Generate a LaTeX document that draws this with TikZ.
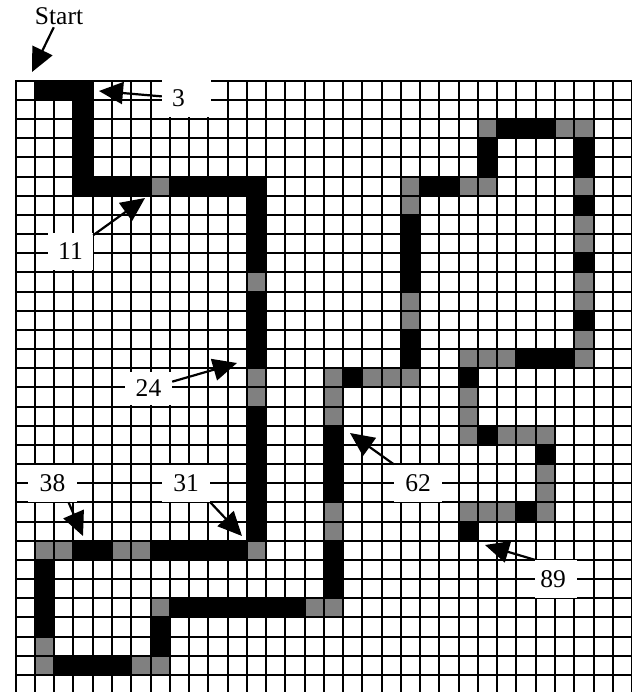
\documentclass[tikz,border=0pt]{standalone}
\usepackage{fontspec}
\setmainfont{Liberation Serif}
\usetikzlibrary{arrows.meta}
\definecolor{cellgray}{RGB}{128,128,128}
\begin{document}
\begin{tikzpicture}[x=1bp,y=-1bp,
  gridline/.style={line width=2bp,black,line cap=rect},
  lbl/.style={fill=white,inner sep=0pt,minimum width=47bp,minimum height=37bp,font=\fontsize{25.6}{30}\selectfont},
  txt/.style={inner sep=2bp,font=\fontsize{25.6}{30}\selectfont},
  arr/.style={line width=2.2bp,-{Triangle[length=24bp,width=22bp]}}]
\useasboundingbox (0,0) rectangle (632,692);
\def\gx{15.7}\def\gy{80.7}\def\sx{19.26}\def\sy{19.17}
% black path cells
\foreach \c/\r in {1/0,2/0,3/0,3/1,3/2,3/3,3/4,3/5,
  4/5,5/5,6/5,8/5,9/5,10/5,11/5,12/5,
  12/6,12/7,12/8,12/9,12/11,12/12,12/13,12/14,12/17,12/18,12/19,12/20,12/21,12/22,12/23,
  3/24,4/24,7/24,8/24,9/24,10/24,11/24,
  1/25,1/26,1/27,1/28,
  2/30,3/30,4/30,5/30,
  7/28,7/29,
  8/27,9/27,10/27,11/27,12/27,13/27,14/27,
  16/18,16/19,16/20,16/21,16/24,16/25,16/26,
  17/15,
  20/7,20/8,20/9,20/10,20/13,20/14,
  21/5,22/5,24/3,24/4,25/2,26/2,27/2,
  29/3,29/4,29/6,29/9,29/12,
  26/14,27/14,28/14,
  23/15,24/18,27/19,26/22,23/23}
  \fill[black] ({\gx+\c*\sx},{\gy+\r*\sy}) rectangle ++(\sx,\sy);
% gray path cells
\foreach \c/\r in {7/5,12/10,12/15,12/16,12/24,
  1/24,2/24,5/24,6/24,
  1/29,1/30,6/30,7/30,7/27,15/27,16/27,
  16/22,16/23,16/15,16/16,16/17,
  18/15,19/15,20/15,
  20/11,20/12,20/5,20/6,
  23/5,24/5,24/2,28/2,29/2,
  29/5,29/7,29/8,29/10,29/11,29/13,29/14,
  23/14,24/14,25/14,
  23/16,23/17,23/18,
  25/18,26/18,27/18,
  27/20,27/21,27/22,
  23/22,24/22,25/22}
  \fill[cellgray] ({\gx+\c*\sx},{\gy+\r*\sy}) rectangle ++(\sx,\sy);
% grid
\foreach \k in {0,...,32}
  \draw[gridline] ({\gx+\k*\sx},\gy) -- ({\gx+\k*\sx},700);
\foreach \k in {0,...,31}
  \draw[gridline] (\gx,{\gy+\k*\sy}) -- (640,{\gy+\k*\sy});
% labels
\node[txt] (start) at (59,16.5) {Start};
\node[lbl,minimum width=49bp] (l3) at (186.5,98.5) {3\hspace*{16bp}};
\node[lbl,minimum width=45bp] (l11) at (70.5,251.5) {11};
\node[lbl,minimum height=33bp] (l24) at (148.5,388.5) {24};
\node[lbl,minimum width=49bp] (l38) at (52.5,483.5) {38};
\node[lbl,minimum width=48bp] (l31) at (186,483.5) {31};
\node[lbl,minimum width=48bp] (l62) at (418,483) {62};
\node[lbl,minimum width=42bp,minimum height=38bp] (l89) at (556,579) {89\hspace*{6bp}};
% arrow tips
\coordinate (tStart) at (32,72);
\coordinate (t3) at (99,91);
\coordinate (t11) at (145,198);
\coordinate (t24) at (237,363);
\coordinate (t38) at (83,536);
\coordinate (t31) at (242,536);
\coordinate (t62) at (350,433);
\coordinate (t89) at (485,545);
\draw[arr] (start) -- (tStart);
\draw[arr] (l3) -- (t3);
\draw[arr] (l11) -- (t11);
\draw[arr] (l24) -- (t24);
\draw[arr] ([xshift=16bp]l38.south) -- (t38);
\draw[arr] (l31.south east) -- (t31);
\draw[arr] (l62.north west) -- (t62);
\draw[arr] (l89.north west) -- (t89);
\end{tikzpicture}
\end{document}
